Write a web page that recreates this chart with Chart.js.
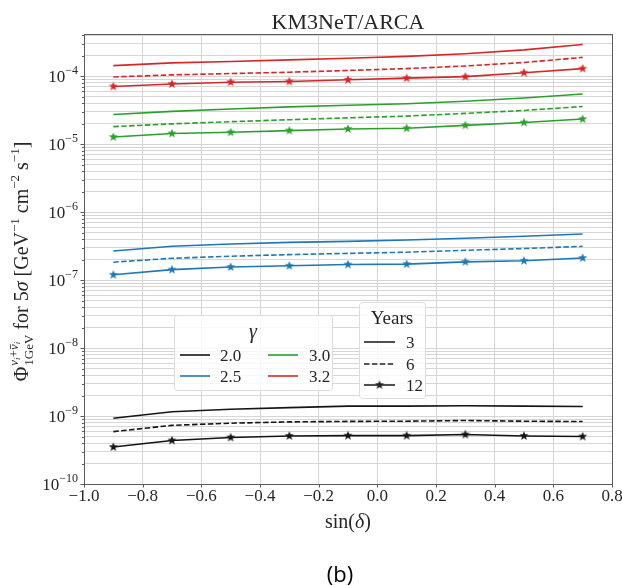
<!DOCTYPE html>
<html>
<head>
<meta charset="utf-8">
<script src="https://cdn.jsdelivr.net/npm/chart.js@4/dist/chart.umd.min.js"></script>
<style>
  html, body { margin: 0; background: #fff; }
  #wrap { width: 622px; height: 586px; }
</style>
</head>
<body>
<div id="wrap"><canvas id="c" width="622" height="586"></canvas></div>
<script>
// sin(delta) grid of the sensitivity curves
var sinDelta = [-0.9, -0.7, -0.5, -0.3, -0.1, 0.1, 0.3, 0.5, 0.7];

// 5 sigma discovery flux, gamma = 2.0
var g20y3  = [9.3e-10, 1.16e-9, 1.26e-9, 1.33e-9, 1.40e-9, 1.40e-9, 1.42e-9, 1.40e-9, 1.38e-9];
var g20y6  = [5.9e-10, 7.3e-10, 7.85e-10, 8.2e-10, 8.35e-10, 8.4e-10, 8.6e-10, 8.4e-10, 8.3e-10];
var g20y12 = [3.5e-10, 4.37e-10, 4.84e-10, 5.1e-10, 5.15e-10, 5.15e-10, 5.35e-10, 5.1e-10, 5.0e-10];
// gamma = 2.5
var g25y3  = [2.69e-7, 3.15e-7, 3.4e-7, 3.6e-7, 3.72e-7, 3.9e-7, 4.15e-7, 4.42e-7, 4.78e-7];
var g25y6  = [1.84e-7, 2.1e-7, 2.25e-7, 2.38e-7, 2.48e-7, 2.58e-7, 2.75e-7, 2.92e-7, 3.15e-7];
var g25y12 = [1.2e-7, 1.43e-7, 1.56e-7, 1.63e-7, 1.7e-7, 1.72e-7, 1.86e-7, 1.93e-7, 2.12e-7];
// gamma = 3.0
var g30y3  = [2.74e-5, 3.05e-5, 3.3e-5, 3.55e-5, 3.75e-5, 3.95e-5, 4.3e-5, 4.8e-5, 5.5e-5];
var g30y6  = [1.82e-5, 2.0e-5, 2.15e-5, 2.3e-5, 2.45e-5, 2.6e-5, 2.85e-5, 3.15e-5, 3.6e-5];
var g30y12 = [1.28e-5, 1.44e-5, 1.5e-5, 1.59e-5, 1.68e-5, 1.72e-5, 1.9e-5, 2.09e-5, 2.35e-5];
// gamma = 3.2
var g32y3  = [1.44e-4, 1.58e-4, 1.65e-4, 1.75e-4, 1.85e-4, 1.97e-4, 2.15e-4, 2.45e-4, 2.95e-4];
var g32y6  = [9.8e-5, 1.05e-4, 1.1e-4, 1.15e-4, 1.22e-4, 1.3e-4, 1.42e-4, 1.6e-4, 1.9e-4];
var g32y12 = [7.1e-5, 7.7e-5, 8.2e-5, 8.4e-5, 8.9e-5, 9.4e-5, 9.9e-5, 1.13e-4, 1.3e-4];

var gammaLabels = ['2.0', '2.5', '3.0', '3.2'];
var gammaColors = ['#151515', '#1f77b4', '#2ca02c', '#d62728'];
var yearLabels = ['3', '6', '12'];
var xTicks = [-1.0, -0.8, -0.6, -0.4, -0.2, 0.0, 0.2, 0.4, 0.6, 0.8];
var yExponents = [-10, -9, -8, -7, -6, -5, -4];

var series = [
  [g20y3, g20y6, g20y12],
  [g25y3, g25y6, g25y12],
  [g30y3, g30y6, g30y12],
  [g32y3, g32y6, g32y12]
];

var SERIF = '"Liberation Serif", "DejaVu Serif", serif';

function starCanvas(color, r) {
  var c = document.createElement('canvas');
  var s = Math.ceil(r * 2 + 2);
  c.width = s; c.height = s;
  var g = c.getContext('2d');
  g.translate(s / 2, s / 2);
  g.beginPath();
  for (var i = 0; i < 10; i++) {
    var rr = i % 2 === 0 ? r : r * 0.42;
    var a = -Math.PI / 2 + i * Math.PI / 5;
    g.lineTo(rr * Math.cos(a), rr * Math.sin(a));
  }
  g.closePath();
  g.fillStyle = color;
  g.fill();
  return c;
}

var datasets = [];
series.forEach((grp, gi) => {
  grp.forEach((vals, yi) => {
    datasets.push({
      label: 'gamma ' + gammaLabels[gi] + ', ' + yearLabels[yi] + ' yr',
      data: sinDelta.map((x, i) => ({x: x, y: vals[i]})),
      borderColor: gammaColors[gi],
      backgroundColor: gammaColors[gi],
      borderWidth: 1.6,
      borderDash: yi === 1 ? [5.5, 2.4] : [],
      pointRadius: yi === 2 ? 4.8 : 0,
      pointStyle: yi === 2 ? starCanvas(gammaColors[gi], 4.8) : 'circle',
      tension: 0
    });
  });
});

// little text renderer for sub/superscripts
function runsWidth(ctx, runs) {
  var w = 0;
  runs.forEach(r => {
    ctx.font = (r.it ? 'italic ' : '') + r.s + 'px ' + SERIF;
    w += ctx.measureText(r.t).width;
  });
  return w;
}
function drawRuns(ctx, runs, x, y) {
  runs.forEach(r => {
    ctx.font = (r.it ? 'italic ' : '') + r.s + 'px ' + SERIF;
    var w = ctx.measureText(r.t).width;
    ctx.fillText(r.t, x, y + (r.dy || 0));
    if (r.bar) {
      ctx.fillRect(x + 1, y + (r.dy || 0) - r.s * 0.62, w - 1, 0.8);
    }
    x += w;
  });
  return x;
}

function drawLegendBox(ctx, x0, y0, x1, y1) {
  var r = 3;
  ctx.save();
  ctx.beginPath();
  ctx.moveTo(x0 + r, y0);
  ctx.arcTo(x1, y0, x1, y1, r);
  ctx.arcTo(x1, y1, x0, y1, r);
  ctx.arcTo(x0, y1, x0, y0, r);
  ctx.arcTo(x0, y0, x1, y0, r);
  ctx.closePath();
  ctx.fillStyle = 'rgba(255,255,255,0.8)';
  ctx.fill();
  ctx.strokeStyle = '#dcdcdc';
  ctx.lineWidth = 1;
  ctx.stroke();
  ctx.restore();
}

var decor = {
  id: 'decor',
  afterDraw(chart) {
    var ctx = chart.ctx;
    var ca = chart.chartArea;
    var xs = chart.scales.x, ys = chart.scales.y;
    ctx.save();

    // frame
    ctx.strokeStyle = '#5a5a5a';
    ctx.lineWidth = 1;
    ctx.strokeRect(Math.round(ca.left) + 0.5, Math.round(ca.top) + 0.5,
      Math.round(ca.right - ca.left), Math.round(ca.bottom - ca.top));

    // tick marks
    ctx.beginPath();
    xTicks.forEach(v => {
      var px = Math.round(xs.getPixelForValue(v)) + 0.5;
      ctx.moveTo(px, ca.bottom); ctx.lineTo(px, ca.bottom + 3.5);
    });
    ys.ticks.forEach(t => {
      var py = Math.round(ys.getPixelForValue(t.value)) + 0.5;
      var len = t.major ? 3.5 : 2;
      ctx.moveTo(ca.left, py); ctx.lineTo(ca.left - len, py);
    });
    ctx.stroke();

    ctx.fillStyle = '#262626';
    // x tick labels
    ctx.font = '17px ' + SERIF;
    ctx.textAlign = 'center';
    ctx.textBaseline = 'middle';
    xTicks.forEach(v => {
      var s = v.toFixed(1).replace('-', '\u2212');
      ctx.fillText(s, xs.getPixelForValue(v), ca.bottom + 13);
    });

    // y tick labels 10^n
    ctx.textAlign = 'left';
    ctx.textBaseline = 'alphabetic';
    yExponents.forEach(e => {
      var py = ys.getPixelForValue(Math.pow(10, e));
      var runs = [{t: '10', s: 17}, {t: '\u2212' + Math.abs(e), s: 12, dy: -8}];
      var w = runsWidth(ctx, runs);
      drawRuns(ctx, runs, ca.left - 6 - w, py + 6);
    });

    // title
    ctx.textAlign = 'center';
    ctx.font = '22px ' + SERIF;
    ctx.fillText('KM3NeT/ARCA', (ca.left + ca.right) / 2, 29);

    // x axis label
    ctx.textAlign = 'left';
    var xl = [{t: 'sin(', s: 20}, {t: '\u03b4', s: 20, it: 1}, {t: ')', s: 20}];
    drawRuns(ctx, xl, (ca.left + ca.right) / 2 - runsWidth(ctx, xl) / 2, 528);

    // y axis label (rotated)
    ctx.save();
    ctx.translate(28, (ca.top + ca.bottom) / 2 + 3);
    ctx.rotate(-Math.PI / 2);
    var B = 20, S = 13;
    var p1 = [{t: '\u03a6', s: B}];
    var sup = [{t: '\u03bd', s: S, it: 1}, {t: 'i', s: 9, dy: 2, it: 1}, {t: '+', s: S},
               {t: '\u03bd', s: S, it: 1, bar: 1}, {t: 'i', s: 9, dy: 2, it: 1}];
    var sub = [{t: '1GeV', s: S}];
    var p2 = [{t: ' for 5', s: B}, {t: '\u03c3', s: B, it: 1}, {t: ' [GeV', s: B},
              {t: '\u22121', s: S, dy: -9}, {t: ' cm', s: B}, {t: '\u22122', s: S, dy: -9},
              {t: ' s', s: B}, {t: '\u22121', s: S, dy: -9}, {t: ']', s: B}];
    var wStack = Math.max(runsWidth(ctx, sup), runsWidth(ctx, sub));
    var total = runsWidth(ctx, p1) + wStack + runsWidth(ctx, p2);
    var x = -total / 2;
    x = drawRuns(ctx, p1, x, 0);
    drawRuns(ctx, sup, x + 1, -10);
    drawRuns(ctx, sub, x + 1, 5);
    drawRuns(ctx, p2, x + wStack + 1, 0);
    ctx.restore();

    // gamma legend
    drawLegendBox(ctx, 174.5, 315.5, 332.5, 390.5);
    ctx.fillStyle = '#262626';
    ctx.textAlign = 'center';
    ctx.font = 'italic 20px ' + SERIF;
    ctx.fillText('\u03b3', 253, 338);
    var cols = [[180, 220], [268, 309]];
    var rows = [355, 376];
    ctx.textAlign = 'left';
    ctx.font = '17px ' + SERIF;
    gammaLabels.forEach((lab, i) => {
      var col = cols[Math.floor(i / 2)], row = rows[i % 2];
      ctx.strokeStyle = gammaColors[i];
      ctx.lineWidth = 1.6;
      ctx.beginPath(); ctx.moveTo(col[0], row); ctx.lineTo(col[0] + 30, row); ctx.stroke();
      ctx.fillStyle = '#262626';
      ctx.fillText(lab, col[1], row + 6);
    });

    // years legend
    drawLegendBox(ctx, 359.5, 302.5, 425.5, 398.5);
    ctx.fillStyle = '#262626';
    ctx.textAlign = 'center';
    ctx.font = '19px ' + SERIF;
    ctx.fillText('Years', 392, 324);
    ctx.textAlign = 'left';
    ctx.font = '17px ' + SERIF;
    var yRows = [342, 364, 385];
    yearLabels.forEach((lab, i) => {
      ctx.strokeStyle = '#222';
      ctx.lineWidth = 1.6;
      ctx.setLineDash(i === 1 ? [5.5, 2.4] : []);
      ctx.beginPath(); ctx.moveTo(364, yRows[i]); ctx.lineTo(395, yRows[i]); ctx.stroke();
      ctx.setLineDash([]);
      if (i === 2) {
        var st = starCanvas('#222', 4.8);
        ctx.drawImage(st, 379.5 - st.width / 2, yRows[i] - st.height / 2);
      }
      ctx.fillStyle = '#262626';
      ctx.fillText(lab, 406, yRows[i] + 6);
    });

    // panel tag
    ctx.fillStyle = '#000';
    ctx.textAlign = 'center';
    ctx.font = '22px "Open Sans", "Noto Sans", sans-serif';
    ctx.fillText('(b)', 340, 582);

    ctx.restore();
  }
};

new Chart(document.getElementById('c'), {
  type: 'line',
  data: {datasets: datasets},
  options: {
    responsive: false,
    animation: false,
    devicePixelRatio: 1,
    layout: {padding: {left: 84, top: 34, right: 10, bottom: 102}},
    plugins: {legend: {display: false}, tooltip: {enabled: false}},
    scales: {
      x: {
        type: 'linear',
        min: -1.0,
        max: 0.8,
        afterBuildTicks: axis => { axis.ticks = xTicks.map(v => ({value: v})); },
        ticks: {display: false},
        grid: {color: '#d6d6d6', lineWidth: 1, drawTicks: false},
        border: {display: false}
      },
      y: {
        type: 'logarithmic',
        min: 1e-10,
        max: 4.2e-4,
        afterBuildTicks: axis => {
          var t = [];
          yExponents.forEach(e => {
            for (var k = 1; k <= 9; k++) {
              var v = k * Math.pow(10, e);
              if (v <= axis.max) t.push({value: v, major: k === 1});
            }
          });
          axis.ticks = t;
        },
        ticks: {display: false},
        grid: {color: '#d6d6d6', lineWidth: 1, drawTicks: false},
        border: {display: false}
      }
    }
  },
  plugins: [decor]
});
</script>
</body>
</html>
